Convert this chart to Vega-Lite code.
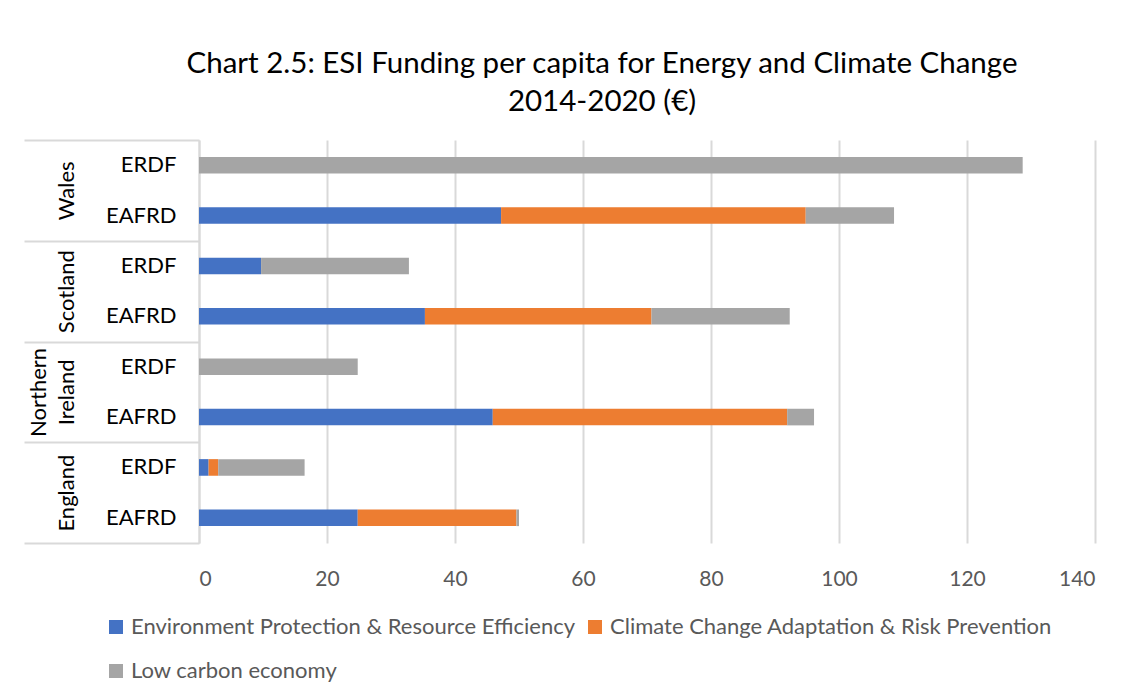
{
  "$schema": "https://vega.github.io/schema/vega-lite/v6.json",
  "width": 896,
  "height": 403,
  "padding": {"left": 23, "top": 48, "right": 10, "bottom": 10},
  "background": "white",
  "title": {
    "text": ["Chart 2.5: ESI Funding per capita for Energy and Climate Change", "2014-2020 (€)"],
    "font": "Lato",
    "fontSize": 29.5,
    "fontWeight": "normal",
    "color": "#000000",
    "lineHeight": 38,
    "anchor": "middle",
    "dx": -45,
    "offset": 22
  },
  "config": {
    "view": {"stroke": null},
    "font": "Lato"
  },
  "data": {
    "values": [
      {"country": "Wales", "fund": "ERDF", "row": "Wales|ERDF", "series": "Low carbon economy", "value": 128.7},
      {"country": "Wales", "fund": "EAFRD", "row": "Wales|EAFRD", "series": "Environment Protection & Resource Efficiency", "value": 47.2},
      {"country": "Wales", "fund": "EAFRD", "row": "Wales|EAFRD", "series": "Climate Change Adaptation & Risk Prevention", "value": 47.6},
      {"country": "Wales", "fund": "EAFRD", "row": "Wales|EAFRD", "series": "Low carbon economy", "value": 13.8},
      {"country": "Scotland", "fund": "ERDF", "row": "Scotland|ERDF", "series": "Environment Protection & Resource Efficiency", "value": 9.7},
      {"country": "Scotland", "fund": "ERDF", "row": "Scotland|ERDF", "series": "Low carbon economy", "value": 23.1},
      {"country": "Scotland", "fund": "EAFRD", "row": "Scotland|EAFRD", "series": "Environment Protection & Resource Efficiency", "value": 35.3},
      {"country": "Scotland", "fund": "EAFRD", "row": "Scotland|EAFRD", "series": "Climate Change Adaptation & Risk Prevention", "value": 35.4},
      {"country": "Scotland", "fund": "EAFRD", "row": "Scotland|EAFRD", "series": "Low carbon economy", "value": 21.6},
      {"country": "Northern Ireland", "fund": "ERDF", "row": "Northern Ireland|ERDF", "series": "Low carbon economy", "value": 24.8},
      {"country": "Northern Ireland", "fund": "EAFRD", "row": "Northern Ireland|EAFRD", "series": "Environment Protection & Resource Efficiency", "value": 45.9},
      {"country": "Northern Ireland", "fund": "EAFRD", "row": "Northern Ireland|EAFRD", "series": "Climate Change Adaptation & Risk Prevention", "value": 46.0},
      {"country": "Northern Ireland", "fund": "EAFRD", "row": "Northern Ireland|EAFRD", "series": "Low carbon economy", "value": 4.2},
      {"country": "England", "fund": "ERDF", "row": "England|ERDF", "series": "Environment Protection & Resource Efficiency", "value": 1.5},
      {"country": "England", "fund": "ERDF", "row": "England|ERDF", "series": "Climate Change Adaptation & Risk Prevention", "value": 1.5},
      {"country": "England", "fund": "ERDF", "row": "England|ERDF", "series": "Low carbon economy", "value": 13.5},
      {"country": "England", "fund": "EAFRD", "row": "England|EAFRD", "series": "Environment Protection & Resource Efficiency", "value": 24.8},
      {"country": "England", "fund": "EAFRD", "row": "England|EAFRD", "series": "Climate Change Adaptation & Risk Prevention", "value": 24.8},
      {"country": "England", "fund": "EAFRD", "row": "England|EAFRD", "series": "Low carbon economy", "value": 0.4}
    ]
  },
  "layer": [
    {
      "transform": [
        {"calculate": "indexof(['Environment Protection & Resource Efficiency', 'Climate Change Adaptation & Risk Prevention', 'Low carbon economy'], datum.series)", "as": "stackOrder"}
      ],
      "mark": {"type": "bar"},
      "encoding": {
        "y": {
          "field": "row",
          "type": "nominal",
          "scale": {
            "domain": ["Wales|ERDF", "Wales|EAFRD", "Scotland|ERDF", "Scotland|EAFRD", "Northern Ireland|ERDF", "Northern Ireland|EAFRD", "England|ERDF", "England|EAFRD"],
            "paddingInner": 0.67,
            "paddingOuter": 0.335
          },
          "axis": {
            "orient": "left",
            "title": null,
            "labelExpr": "split(datum.value, '|')[1]",
            "labelAlign": "right",
            "labelPadding": 23,
            "labelFont": "Lato",
            "labelFontSize": 22,
            "labelColor": "#000000",
            "ticks": false,
            "domain": true,
            "domainColor": "#d9d9d9",
            "domainWidth": 2,
            "grid": false
          }
        },
        "x": {
          "field": "value",
          "type": "quantitative",
          "stack": "zero",
          "scale": {"domain": [0, 140], "nice": false},
          "axis": {
            "title": null,
            "values": [0, 20, 40, 60, 80, 100, 120, 140],
            "grid": true,
            "gridColor": "#d9d9d9",
            "gridWidth": 2,
            "domain": false,
            "ticks": false,
            "labelPadding": 25,
            "labelFont": "Lato",
            "labelFontSize": 21,
            "labelColor": "#595959"
          }
        },
        "order": {"field": "stackOrder", "type": "quantitative"},
        "color": {
          "field": "series",
          "type": "nominal",
          "sort": ["Environment Protection & Resource Efficiency", "Climate Change Adaptation & Risk Prevention", "Low carbon economy"],
          "scale": {
            "domain": ["Environment Protection & Resource Efficiency", "Climate Change Adaptation & Risk Prevention", "Low carbon economy"],
            "range": ["#4472C4", "#ED7D31", "#A5A5A5"]
          },
          "legend": {
            "title": null,
            "orient": "none",
            "legendX": -94,
            "legendY": 476,
            "direction": "horizontal",
            "columns": 2,
            "columnPadding": 8,
            "rowPadding": 22,
            "symbolType": "square",
            "symbolSize": 196,
            "symbolStrokeWidth": 0,
            "labelFont": "Lato",
            "labelFontSize": 22,
            "labelColor": "#595959",
            "labelLimit": 700
          }
        }
      }
    },
    {
      "mark": {"type": "rule", "opacity": 0},
      "encoding": {
        "y": {
          "field": "country",
          "type": "nominal",
          "scale": {
            "domain": ["Wales", "Scotland", "Northern Ireland", "England"],
            "paddingInner": 0,
            "paddingOuter": 0
          },
          "axis": {
            "orient": "left",
            "title": null,
            "labelExpr": "datum.value == 'Northern Ireland' ? ['Northern', 'Ireland'] : ['', datum.value]",
            "labelAngle": 270,
            "labelAlign": "center",
            "labelBaseline": "bottom",
            "labelPadding": -26,
            "labelLineHeight": 28,
            "labelFont": "Lato",
            "labelFontSize": 22,
            "labelColor": "#000000",
            "tickBand": "extent",
            "tickSize": 175,
            "tickColor": "#d9d9d9",
            "tickWidth": 2,
            "domain": false,
            "grid": false
          }
        }
      }
    }
  ],
  "resolve": {"scale": {"y": "independent"}, "axis": {"y": "independent"}}
}
